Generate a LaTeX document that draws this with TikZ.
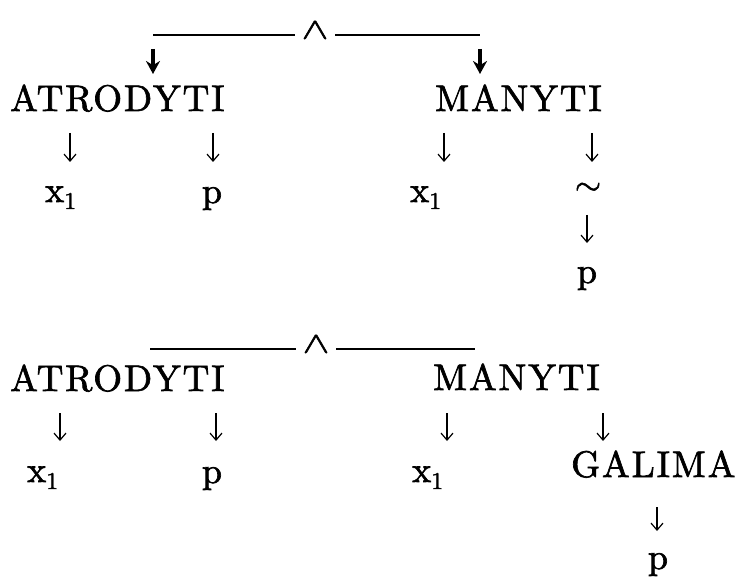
\documentclass[tikz,border=0pt]{standalone}
\usepackage{fontspec}
\usetikzlibrary{arrows.meta}
\newfontfamily\wordfont{lmroman10-regular.otf}[LetterSpace=5, FakeBold=1.8]
\newfontfamily\symfont{lmroman10-regular.otf}[FakeBold=1.8]
\newfontfamily\lmmath{latinmodern-math.otf}[FakeBold=1.5]
\tikzset{
  word/.style={inner sep=0pt, anchor=base west, font=\wordfont\fontsize{37}{40}\selectfont},
  sym/.style={inner sep=0pt, anchor=base, font=\symfont\fontsize{36}{40}\selectfont},
  wedgenode/.style={inner xsep=6pt, inner ysep=0pt, font=\lmmath\fontsize{30}{34}\selectfont},
  tilde/.style={inner sep=0pt, font=\lmmath\fontsize{34}{38}\selectfont},
  ln/.style={line width=1.4pt},
  arr/.style={line width=1.2pt, -{Straight Barb[length=7pt,width=12pt,line width=1.2pt]}},
  barr/.style={line width=3.2pt, -{Stealth[length=13pt,width=14pt]}}
}
\newcommand{\xone}{x\raisebox{-7pt}{\fontsize{24}{24}\selectfont 1}}
\begin{document}
\begin{tikzpicture}[x=1pt,y=-1pt]
\useasboundingbox (0,0) rectangle (738,577);
% ---------- top ----------
\node[wedgenode] (w1) at (315,30) {\scalebox{1.4}[1]{∧}};
\coordinate (l1a) at (153,35);
\coordinate (l1b) at (480,35);
\draw[ln] (l1a) -- (l1a -| w1.west);
\draw[ln] (l1b -| w1.east) -- (l1b);
\coordinate (b1s) at (153,49); \coordinate (b1e) at (153,74);
\coordinate (b2s) at (480,49); \coordinate (b2e) at (480,74);
\draw[barr] (b1s) -- (b1e);
\draw[barr] (b2s) -- (b2e);

\node[word] (atro1) at (10,111) {ATRODYTI};
\node[word] (many1) at (435,111) {MANYTI};

\node[sym, anchor=base west] (xa1) at (45,202) {\xone};
\node[sym] (pa1) at (212,203) {p};
\node[sym, anchor=base west] (xm1) at (410,202) {\xone};
\node[tilde] (tm1) at (588,189) {∼};
\node[sym] (pm1) at (587,283) {p};

\coordinate (a1s) at (70,133);  \coordinate (a1e) at (70,162);
\coordinate (a2s) at (213,133); \coordinate (a2e) at (213,162);
\coordinate (a3s) at (444,133); \coordinate (a3e) at (444,162);
\coordinate (a4s) at (592,133); \coordinate (a4e) at (592,162);
\coordinate (a5s) at (587,215); \coordinate (a5e) at (587,243);
\draw[arr] (a1s) -- (a1e);
\draw[arr] (a2s) -- (a2e);
\draw[arr] (a3s) -- (a3e);
\draw[arr] (a4s) -- (a4e);
\draw[arr] (a5s) -- (a5e);

% ---------- bottom ----------
\node[wedgenode] (w2) at (316,344) {\scalebox{1.4}[1]{∧}};
\coordinate (l2a) at (150,349);
\coordinate (l2b) at (475,349);
\draw[ln] (l2a) -- (l2a -| w2.west);
\draw[ln] (l2b -| w2.east) -- (l2b);

\node[word] (atro2) at (10,391) {ATRODYTI};
\node[word] (many2) at (433,390) {MANYTI};

\node[sym, anchor=base west] (xa2) at (27,482) {\xone};
\node[sym] (pa2) at (212,483) {p};
\node[sym, anchor=base west] (xm2) at (412,482) {\xone};
\node[word] (gal) at (571,477) {GALIMA};
\node[sym] (pg) at (658,569) {p};

\coordinate (c1s) at (60,413);  \coordinate (c1e) at (60,441);
\coordinate (c2s) at (216,413); \coordinate (c2e) at (216,441);
\coordinate (c3s) at (447,413); \coordinate (c3e) at (447,441);
\coordinate (c4s) at (603,413); \coordinate (c4e) at (603,441);
\coordinate (c5s) at (657,507); \coordinate (c5e) at (657,531);
\draw[arr] (c1s) -- (c1e);
\draw[arr] (c2s) -- (c2e);
\draw[arr] (c3s) -- (c3e);
\draw[arr] (c4s) -- (c4e);
\draw[arr] (c5s) -- (c5e);
\end{tikzpicture}
\end{document}
